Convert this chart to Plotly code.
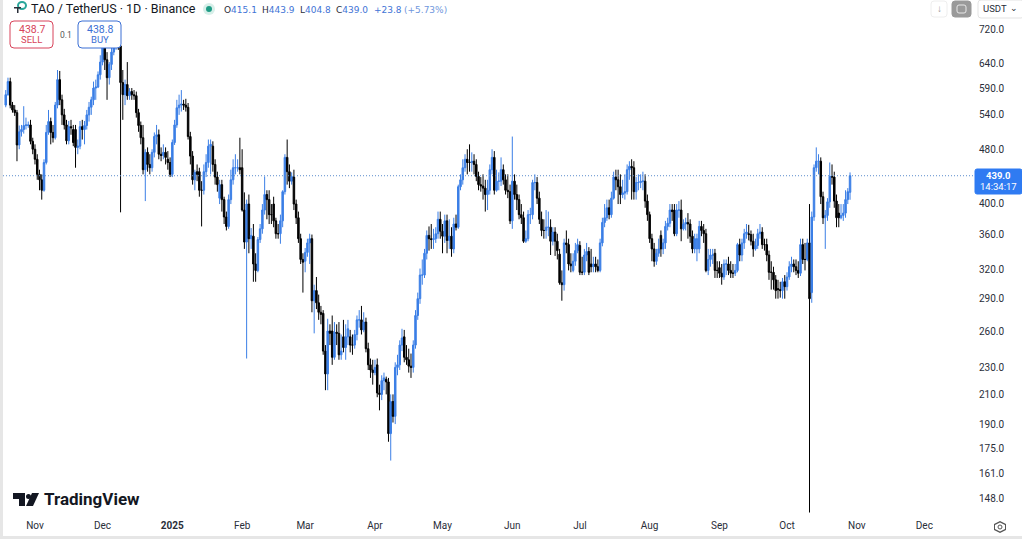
# -*- coding: utf-8 -*-
"""TAO / TetherUS 1D candles, log price scale"""
import pandas as pd
import plotly.graph_objects as go

W, H = 1022, 539
UP, DOWN = "#3b7fe6", "#000000"
TEXT = "#2a2e39"

# one line per month, 2024-10-19 .. 2025-10-29
OPENS = [
    557,577,603,557,548,543,487,509,513,520,520,521,493,
    480,464,441,433,418,459,508,527,508,499,557,607,567,539,521,494,518,513,513,483,485,518,513,520,539,553,567,590,592,617,
    644,676,649,611,639,666,682,690,680,601,577,597,575,583,577,575,543,520,499,448,475,456,451,475,501,504,472,470,475,464,459,
    441,491,521,552,557,559,557,553,501,469,433,445,445,418,418,445,459,485,485,456,437,407,426,405,382,370,405,433,451,451,451,
    451,391,351,399,355,358,326,319,354,367,391,412,405,385,399,377,361,361,377,416,467,445,431,437,399,381,355,331,
    329,339,350,355,288,298,286,277,276,243,225,260,260,238,259,258,240,255,246,255,255,248,248,257,270,270,261,268,245,232,228,
    226,232,211,210,220,221,219,184,205,195,230,232,248,255,238,236,231,230,248,274,290,314,314,338,359,355,354,355,361,379,
    364,358,377,353,358,343,373,369,423,433,451,464,459,459,461,456,438,426,424,421,412,418,448,467,418,431,431,448,433,418,416,
    377,431,412,405,385,381,352,355,385,385,429,429,407,379,365,365,369,369,352,363,352,337,306,304,350,348,326,319,329,341,
    347,317,317,336,340,326,323,326,323,319,350,375,381,394,385,407,437,433,423,412,414,416,448,453,451,416,429,429,431,431,403,
    385,355,343,329,338,359,343,350,370,374,391,391,361,391,391,367,373,375,373,358,343,343,343,370,365,361,319,331,336,338,319,
    322,316,312,326,326,319,316,316,319,348,336,350,361,361,360,352,343,347,361,363,348,348,336,317,317,309,300,299,298,307,
    302,312,323,326,323,319,316,348,331,331,350,296,382,451,461,461,409,381,384,402,438,437,403,387,381,384,387,405,415.1,
]
CLOSES = [
    577,603,557,548,543,487,509,513,520,521,521,493,480,
    464,441,433,418,459,508,527,508,499,557,607,567,539,521,494,518,516,491,483,485,518,513,520,539,553,567,590,592,617,644,
    676,649,611,639,666,682,690,680,601,577,597,575,583,577,575,543,520,499,448,475,456,451,475,501,504,472,470,475,467,459,441,
    491,521,552,557,559,557,553,501,469,433,444,441,418,418,445,459,485,488,456,437,426,426,405,382,370,405,433,451,451,451,448,
    391,351,399,355,359,326,319,354,367,391,412,405,385,385,377,361,361,377,416,467,445,431,438,399,381,355,331,328,
    339,350,355,288,298,286,277,275,243,225,260,258,238,259,258,240,243,246,255,262,248,248,257,270,270,261,268,245,232,228,226,
    230,211,210,220,222,219,184,205,195,230,232,248,254,238,236,231,230,248,274,290,314,314,338,359,355,354,355,361,379,364,
    358,377,353,358,343,373,369,423,433,451,464,459,459,461,456,438,426,424,421,412,418,448,467,418,431,431,448,433,418,416,377,
    431,412,405,385,381,352,355,385,385,429,429,407,379,365,365,369,369,352,363,352,341,306,304,350,348,326,324,329,341,348,
    317,317,336,340,317,323,326,323,319,350,375,381,394,385,407,437,433,423,412,414,416,448,453,451,416,429,429,431,431,403,385,
    355,343,329,338,343,343,350,370,374,391,389,361,391,391,367,373,375,373,358,343,355,355,370,365,361,319,331,336,336,319,319,
    316,312,326,326,319,316,316,319,348,336,350,361,363,360,352,343,347,361,363,348,348,336,317,317,309,298,299,298,307,302,
    312,323,326,323,319,316,348,331,331,350,290,382,451,461,461,409,381,384,402,438,437,403,381,381,384,387,405,416,439.0,
]
HIGHS = [
    586,611,611,563,557,548,520,521,555,534,527,530,499,
    488,472,448,441,464,521,548,534,521,563,627,625,577,550,530,528,530,521,521,496,528,530,528,548,563,573,603,607,624,659,
    690,682,666,644,676,690,698,704,682,627,607,644,590,590,586,583,550,527,521,480,483,472,480,508,521,513,483,488,483,477,467,
    496,530,567,577,586,567,569,561,509,477,448,456,451,431,456,472,496,496,493,464,445,433,433,409,389,412,448,464,472,464,499,
    480,415,405,412,368,373,338,357,373,399,438,418,418,399,409,381,373,385,418,472,496,456,444,448,405,389,361,338,
    344,355,361,360,304,312,294,283,279,248,271,266,274,268,266,268,257,270,266,270,261,257,261,274,279,283,277,272,250,237,236,
    236,237,217,224,226,223,222,210,210,234,240,252,262,261,248,245,241,252,279,296,321,331,343,365,370,373,367,369,389,389,
    373,385,385,379,369,381,385,426,441,464,472,480,488,475,472,464,445,437,441,433,433,456,480,477,448,444,467,456,441,441,426,
    501,441,426,412,399,389,365,391,394,433,441,437,416,389,379,391,389,379,369,369,361,343,319,355,365,355,338,338,350,355,
    352,334,343,350,345,343,334,334,331,355,381,399,405,405,416,445,448,448,441,433,441,456,461,464,461,437,441,441,445,441,412,
    389,361,350,343,355,365,355,377,381,399,399,399,399,403,405,379,381,387,379,365,361,361,377,377,373,367,343,343,343,343,329,
    329,326,331,331,334,329,326,326,350,355,355,367,373,372,365,361,355,367,373,369,355,355,341,329,323,314,309,307,311,314,
    317,329,334,331,331,329,355,355,350,355,399,389,456,483,472,467,416,391,407,459,456,445,412,399,399,399,418,421,443.9,
]
LOWS = [
    553,575,551,543,537,461,480,501,506,513,516,488,472,
    456,433,418,405,416,456,504,488,491,496,551,557,521,513,488,488,504,485,451,472,480,496,488,513,527,539,557,567,590,607,
    637,627,567,597,627,659,671,671,388,530,557,567,567,567,567,534,509,488,441,403,445,441,445,467,488,464,461,464,456,448,437,
    437,487,516,539,545,548,545,496,456,426,418,431,409,370,412,437,451,441,445,426,416,399,389,373,365,367,399,426,441,445,441,
    389,343,237,338,343,307,307,317,350,361,385,379,373,373,369,355,355,349,369,412,426,421,426,391,373,350,326,296,
    317,334,326,277,258,280,270,266,240,213,213,248,232,236,248,236,236,242,236,248,242,240,245,252,263,257,259,242,228,222,217,
    224,208,199,206,213,210,179,168,191,190,224,228,243,234,232,226,222,226,245,270,285,304,311,331,341,343,343,350,355,355,
    338,350,338,343,334,338,365,367,418,426,445,441,445,445,441,431,418,416,405,389,391,412,441,412,416,418,424,426,412,407,373,
    367,405,391,379,373,350,350,352,373,379,418,399,373,358,355,355,358,336,347,335,331,304,288,298,338,319,317,317,324,338,
    314,314,314,329,314,317,317,317,317,317,346,369,377,379,381,405,418,399,399,407,405,412,433,405,405,405,418,421,418,394,377,
    350,329,323,325,334,334,337,343,365,369,377,358,358,381,352,365,365,355,350,338,338,329,338,358,350,317,314,323,326,311,311,
    311,304,309,314,314,311,311,313,317,329,329,343,355,353,347,334,341,343,355,343,341,329,309,299,299,290,290,291,290,290,
    298,309,317,317,314,311,313,326,319,329,141,286,377,445,441,399,373,343,377,394,426,394,369,369,379,377,381,399,404.8,
]

PRICE_TICKS = [720, 640, 590, 540, 480, 400, 360, 320, 290, 260, 230, 210, 190, 175, 161, 148]
MONTH_TICKS = ["2024-11-01", "2024-12-01", "2025-01-01", "2025-02-01", "2025-03-01", "2025-04-01", "2025-05-01",
               "2025-06-01", "2025-07-01", "2025-08-01", "2025-09-01", "2025-10-01", "2025-11-01", "2025-12-01"]
MONTH_LABELS = ["Nov", "Dec", "<b>2025</b>", "Feb", "Mar", "Apr", "May", "Jun", "Jul", "Aug", "Sep", "Oct", "Nov", "Dec"]
LAST_PRICE = 439.0

dates = pd.date_range("2024-10-19", periods=len(CLOSES), freq="D")


def px(x):
    return x / W


def py(y):
    return 1 - y / H


def rrect(x0, y0, x1, y1, r, line, fill="#ffffff", width=1):
    x0, x1 = px(x0), px(x1)
    y0, y1 = py(y0), py(y1)
    rx, ry = r / W, r / H
    d = (f"M{x0 + rx},{y0} L{x1 - rx},{y0} Q{x1},{y0} {x1},{y0 - ry} L{x1},{y1 + ry} Q{x1},{y1} {x1 - rx},{y1} "
         f"L{x0 + rx},{y1} Q{x0},{y1} {x0},{y1 + ry} L{x0},{y0 - ry} Q{x0},{y0} {x0 + rx},{y0} Z")
    return dict(type="path", path=d, xref="paper", yref="paper", fillcolor=fill, line=dict(color=line, width=width),
                layer="above")


def label(x, y, text, size=11, color=TEXT, anchor="left", font="Roboto"):
    return dict(x=px(x), y=py(y), xref="paper", yref="paper", text=text, showarrow=False, xanchor=anchor,
                yanchor="middle", font=dict(size=size, color=color, family=font))


def poly(points, color):
    d = "M" + " L".join(f"{px(a)},{py(b)}" for a, b in points) + " Z"
    return dict(type="path", path=d, xref="paper", yref="paper", fillcolor=color, line=dict(width=0), layer="above")


fig = go.Figure(go.Candlestick(
    x=dates, open=OPENS, high=HIGHS, low=LOWS, close=CLOSES,
    increasing=dict(line=dict(color=UP, width=1), fillcolor=UP),
    decreasing=dict(line=dict(color=DOWN, width=1), fillcolor=DOWN),
    showlegend=False,
))

shapes = [
    # last price line
    dict(type="line", xref="paper", yref="y", x0=px(3), x1=px(975), y0=LAST_PRICE, y1=LAST_PRICE,
         line=dict(color="#5b8ccc", width=1, dash="1px,2px"), layer="above"),
    # window edges
    dict(type="rect", xref="paper", yref="paper", x0=0, x1=px(3), y0=0, y1=1, fillcolor="#e6e6e6", line=dict(width=0), layer="above"),
    dict(type="rect", xref="paper", yref="paper", x0=0, x1=1, y0=0, y1=py(536), fillcolor="#e6e6e6", line=dict(width=0), layer="above"),
    # sell / buy
    rrect(10, 21, 53, 48, 4, "#d8435a"),
    rrect(78, 21, 121, 48, 4, "#3b6fd4"),
    # price tag
    rrect(975, 169, 1022, 194, 2, "#2f7bf2", fill="#2f7bf2"),
    # toolbar
    rrect(931, 1, 947, 17, 3, "#eeeeee"),
    rrect(952, 1, 971, 17, 3, "#9a9a9a", fill="#9a9a9a"),
    rrect(978, 0, 1024, 18, 3, "#e3e3e3"),
    rrect(957, 5, 966, 13, 2, "#e8e8e8", fill="#9a9a9a"),
    # status dot
    dict(type="circle", xref="paper", yref="paper", x0=px(203), x1=px(215), y0=py(15), y1=py(3), fillcolor="#d7efe9", line=dict(width=0), layer="above"),
    dict(type="circle", xref="paper", yref="paper", x0=px(206), x1=px(212), y0=py(12), y1=py(6), fillcolor="#1f9c85", line=dict(width=0), layer="above"),
    # coin icon
    dict(type="circle", xref="paper", yref="paper", x0=px(18), x1=px(26), y0=py(9), y1=py(2), fillcolor="#ffffff", line=dict(color="#2aa79b", width=2), layer="above"),
    poly([(14, 7), (21, 7), (21, 8.5), (18.5, 8.5), (18.5, 13), (17, 13), (17, 8.5), (14, 8.5)], "#2a2e39"),
    # settings hexagon
    poly([(1000, 521), (1006, 524), (1006, 530), (1000, 533), (994, 530), (994, 524)], "#555555"),
    poly([(1000, 522.5), (1005, 525), (1005, 529), (1000, 531.5), (995, 529), (995, 525)], "#ffffff"),
    dict(type="circle", xref="paper", yref="paper", x0=px(998), x1=px(1002), y0=py(529), y1=py(525), fillcolor="#ffffff", line=dict(color="#555555", width=1), layer="above"),
    # TradingView mark
    poly([(13, 493), (25, 493), (25, 506), (19, 506), (19, 499), (13, 499)], "#131722"),
    dict(type="circle", xref="paper", yref="paper", x0=px(26), x1=px(31), y0=py(499), y1=py(494), fillcolor="#131722", line=dict(width=0), layer="above"),
    poly([(32, 493), (39, 493), (33, 506), (26, 506)], "#131722"),
]

BLUE_TXT = "#3f74d6"
DARK = "<span style='color:#2a2e39'>%s</span>"
annotations = [
    label(29, 9, "TAO / TetherUS · 1D · Binance", size=12.5, color="#131722"),
    label(222, 9.5, DARK % "O" + "415.1", size=9, color=BLUE_TXT, font="DejaVu Sans"),
    label(260, 9.5, DARK % "H" + "443.9", size=9, color=BLUE_TXT, font="DejaVu Sans"),
    label(298, 9.5, DARK % "L" + "404.8", size=9, color=BLUE_TXT, font="DejaVu Sans"),
    label(334, 9.5, DARK % "C" + "439.0", size=9, color=BLUE_TXT, font="DejaVu Sans"),
    label(372, 9.5, "+23.8", size=9, color=BLUE_TXT, font="DejaVu Sans"),
    label(402, 9.5, "(+5.73%)", size=9, color="#6f97dd", font="DejaVu Sans"),
    label(31.5, 29, "438.7", size=10.5, color="#d8435a", anchor="center"),
    label(31.5, 40, "SELL", size=9.5, color="#d8435a", anchor="center"),
    label(66, 35, "0.1", size=8.5, color="#555555", anchor="center"),
    label(99.5, 29, "438.8", size=10.5, color="#3b6fd4", anchor="center"),
    label(99.5, 40, "BUY", size=9.5, color="#3b6fd4", anchor="center"),
    label(998.5, 176, "<b>439.0</b>", size=9.5, color="#ffffff", anchor="center"),
    label(998.5, 187, "14:34:17", size=9.5, color="#ffffff", anchor="center"),
    label(981, 9, "USDT", size=9.5, color="#2a2e39"),
    label(1014, 8, "⌄", size=9, color="#2a2e39", anchor="center"),
    label(939, 8, "↓", size=10, color="#9a9a9a", anchor="center"),
    label(42, 499, "<b>TradingView</b>", size=17, color="#131722"),
]

fig.update_layout(
    width=W, height=H,
    margin=dict(l=0, r=0, t=0, b=0),
    paper_bgcolor="#ffffff", plot_bgcolor="#ffffff",
    font=dict(family="Roboto", color=TEXT),
    shapes=shapes, annotations=annotations,
    dragmode=False,
    boxgap=0.05,
)
fig.update_xaxes(
    domain=[px(3), px(975)], range=["2024-10-17 19:00", "2025-12-23 12:00"],
    rangeslider_visible=False, showgrid=False, zeroline=False, showline=False,
    tickmode="array", tickvals=MONTH_TICKS, ticktext=MONTH_LABELS, ticks="",
    tickfont=dict(size=10, color="#2a2e39"), automargin=False,
)
fig.update_yaxes(
    type="log", side="right", domain=[py(518), 1], range=[2.1412, 2.8998],
    showgrid=False, zeroline=False, showline=False,
    tickmode="array", tickvals=PRICE_TICKS, ticktext=[f"{v:.1f}" for v in PRICE_TICKS], ticks="",
    ticklabelstandoff=3,
    tickfont=dict(size=10, color="#2a2e39"), automargin=False,
)

fig.write_html("out.html", config={"displayModeBar": False},
               post_script="document.body.style.margin='0';")
